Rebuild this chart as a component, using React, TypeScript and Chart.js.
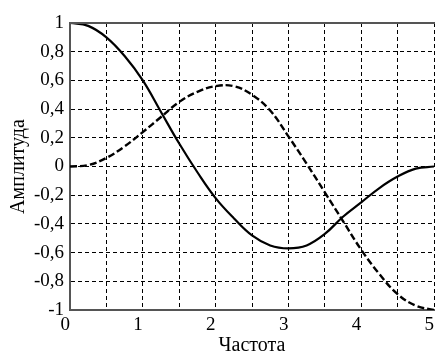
import { useEffect, useRef } from "react";
import { Chart, registerables } from "chart.js";

Chart.register(...registerables);

const frequency = [0, 0.25, 0.5, 0.75, 1, 1.25, 1.5, 1.75, 2, 2.25, 2.5, 2.75, 3, 3.25, 3.5, 3.75, 4, 4.25, 4.5, 4.75, 5];
const solidAmplitude = [1.0, 0.98, 0.9, 0.77, 0.6, 0.38, 0.16, -0.04, -0.22, -0.36, -0.48, -0.55, -0.57, -0.55, -0.47, -0.35, -0.25, -0.15, -0.07, -0.015, 0];
const dashedAmplitude = [0, 0.01, 0.06, 0.14, 0.24, 0.345, 0.45, 0.52, 0.56, 0.56, 0.5, 0.39, 0.21, 0.02, -0.18, -0.38, -0.58, -0.75, -0.89, -0.97, -1.0];
const xTitle = "Частота";
const yTitle = "Амплитуда";

const topFrame = {
  id: "topFrame",
  afterDatasetsDraw(chart: any) {
    const { ctx, chartArea } = chart;
    ctx.save();
    ctx.strokeStyle = "#555";
    ctx.lineWidth = 2;
    ctx.beginPath();
    ctx.moveTo(chartArea.left, chartArea.top);
    ctx.lineTo(chart.width, chartArea.top);
    ctx.stroke();
    ctx.restore();
  },
};

export default function App() {
  const ref = useRef<HTMLCanvasElement>(null);
  useEffect(() => {
    document.body.style.margin = "0";
    const serif = "'Liberation Serif', 'Times New Roman', serif";
    const chart = new Chart(ref.current!, {
      type: "line",
      data: {
        datasets: [
          {
            data: frequency.map((x, i) => ({ x, y: solidAmplitude[i] })),
            borderColor: "#000",
            borderWidth: 2.2,
            pointRadius: 0,
            tension: 0.4,
            fill: false,
          },
          {
            data: frequency.map((x, i) => ({ x, y: dashedAmplitude[i] })),
            borderColor: "#000",
            borderWidth: 2.4,
            borderDash: [7, 3],
            pointRadius: 0,
            tension: 0.4,
            fill: false,
          },
        ],
      },
      options: {
        responsive: false,
        animation: false,
        layout: { padding: { left: 0, right: 1, top: 23, bottom: 0 } },
        plugins: { legend: { display: false }, tooltip: { enabled: false } },
        scales: {
          x: {
            type: "linear",
            min: 0,
            max: 5,
            ticks: {
              stepSize: 0.5,
              autoSkip: false,
              maxRotation: 0,
              align: "end",
              padding: 6,
              color: "#000",
              font: { family: serif, size: 19, lineHeight: 1 },
              callback: (v: any) => (Number.isInteger(v) ? String(v) : ""),
            },
            grid: { color: "#000", lineWidth: 1, drawTicks: false },
            border: { display: true, color: "#555", width: 2, dash: [4, 3] },
            title: {
              display: true,
              text: xTitle,
              color: "#000",
              font: { family: serif, size: 20, lineHeight: 1 },
              padding: { top: 0, bottom: 2.5 },
            },
            afterFit: (s: any) => {
              s.height = 48;
              s.paddingRight = 0;
            },
          },
          y: {
            type: "linear",
            min: -1,
            max: 1,
            ticks: {
              stepSize: 0.2,
              padding: 6,
              color: "#000",
              font: { family: serif, size: 19, lineHeight: 1 },
              callback: (v: any) => {
                const r = Math.round(Number(v) * 10) / 10;
                return (r === 0 ? "0" : String(r)).replace(".", ",");
              },
            },
            grid: { color: "#000", lineWidth: 1, drawTicks: false },
            border: { display: true, color: "#555", width: 2, dash: [4, 3] },
            title: {
              display: true,
              text: yTitle,
              color: "#000",
              font: { family: serif, size: 20, lineHeight: 1 },
              padding: { top: 8.5, bottom: 0 },
            },
            afterFit: (s: any) => {
              s.width = 70;
            },
          },
        },
      },
      plugins: [topFrame],
    });
    return () => chart.destroy();
  }, []);
  return <canvas ref={ref} width={435} height={358} />;
}
